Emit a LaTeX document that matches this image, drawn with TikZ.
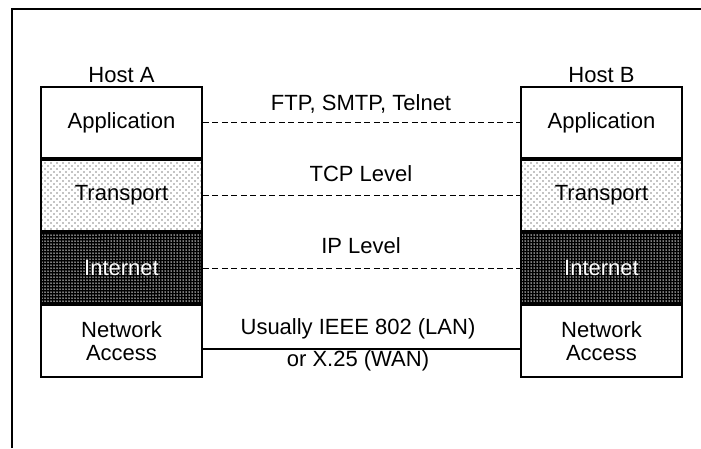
\documentclass[tikz,border=0pt]{standalone}
\usepackage{fontspec}
\setmainfont{Liberation Sans}
\usetikzlibrary{patterns,positioning}
\pgfdeclarepatternformonly{sparse dots}{\pgfqpoint{-1pt}{-1pt}}{\pgfqpoint{7pt}{7pt}}{\pgfqpoint{6pt}{6pt}}%
{\pgfpathcircle{\pgfqpoint{0pt}{0pt}}{.7pt}\pgfpathcircle{\pgfqpoint{3pt}{3pt}}{.7pt}\pgfusepath{fill}}
\pgfdeclarepatternformonly{grid dots}{\pgfqpoint{-1pt}{-1pt}}{\pgfqpoint{4pt}{4pt}}{\pgfqpoint{3pt}{3pt}}%
{\pgfpathcircle{\pgfqpoint{0pt}{0pt}}{.75pt}\pgfusepath{fill}}

\begin{document}
\begin{tikzpicture}[x=1pt,y=-1pt,font=\fontsize{22}{25}\selectfont,
  layer/.style={draw,line width=1.6pt,minimum width=161pt,minimum height=71.25pt,
    inner sep=0pt,align=center},
  sparse/.style={pattern=sparse dots,pattern color=black},
  dense/.style={preaction={fill=black},pattern=grid dots,pattern color=white,text=white},
  peer/.style={dash pattern=on 6pt off 3.5pt,line width=1.4pt},
  wire/.style={line width=1.4pt},
  every node/.style={inner sep=1pt}]
\useasboundingbox (0,0) rectangle (701,448);
% --- outer frame ---
\draw[line width=1.5pt] (12,448) -- (12,9) -- (701,9);
% --- the two protocol stacks ---
\foreach \h/\x in {A/121.5,B/601.5} {
  \node[layer] (\h app) at (\x,122.6) {Application};
  \node[layer,sparse,below=0pt of \h app] (\h trans) {Transport};
  \node[layer,dense,below=0pt of \h trans] (\h inet) {Internet};
  \node[layer,below=0pt of \h inet] (\h net) {Network\\[-2pt]Access};
  \node[above=2pt of \h app] (\h name) {Host \h};
}
% --- peer levels ---
\draw[peer] (Aapp.east) -- (Bapp.west);
\draw[peer] (Atrans.east) -- (Btrans.west);
\draw[peer] (Ainet.east) -- (Binet.west);
\draw[wire] ([yshift=-8pt]Anet.east) -- ([yshift=-8pt]Bnet.west);
\node (ftp) at (361,104) {FTP, SMTP, Telnet};
\node (tcp) at (361,174) {TCP Level};
\node (ip) at (361,246) {IP Level};
\node (lan) at (358,329) {Usually IEEE 802 (LAN)};
\node (wan) at (358,361) {or X.25 (WAN)};
\end{tikzpicture}
\end{document}
